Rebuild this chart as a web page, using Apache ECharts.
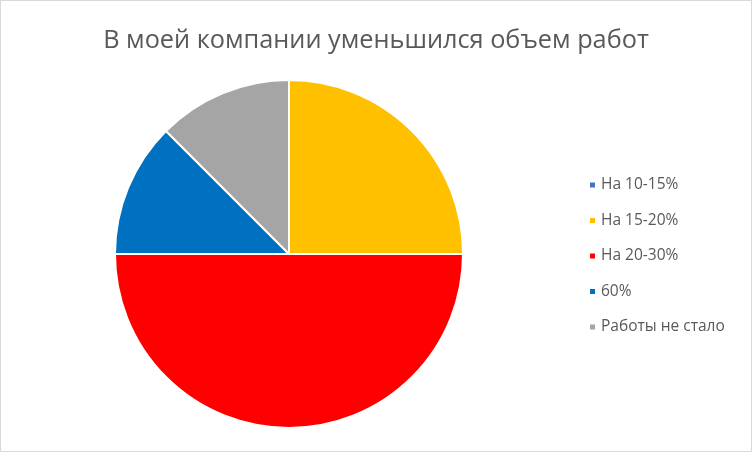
<!DOCTYPE html>
<html><head><meta charset="utf-8">
<script src="https://cdn.jsdelivr.net/npm/echarts@6/dist/echarts.min.js"></script>
<style>html,body{margin:0;padding:0;background:#fff}
#c{position:absolute;left:0;top:0;width:750px;height:450px;border:1px solid #d9d9d9}</style>
</head><body><div id="c"></div>
<script>
const categories = ['На 10-15%', 'На 15-20%', 'На 20-30%', '60%', 'Работы не стало'];
const values = [0, 2, 4, 1, 1];
const colors = ['#4472C4', '#FFC000', '#FF0000', '#0070C0', '#A5A5A5'];
const chart = echarts.init(document.getElementById('c'));
chart.setOption({
  animation: false,
  title: {text: 'В моей компании уменьшился объем работ', left: 'center', top: 22,
    textStyle: {fontFamily: 'Open Sans', fontSize: 25.3, fontWeight: 'normal', color: '#595959'}},
  legend: {orient: 'vertical', left: 582, top: 171, itemWidth: 7, itemHeight: 7, itemGap: 19.5,
    icon: 'rect', textStyle: {fontFamily: 'Open Sans', fontSize: 15.5, lineHeight: 16, color: '#595959'},
    data: categories},
  series: [{type: 'pie', center: [288, 253], radius: 174, startAngle: 90, clockwise: true,
    label: {show: false}, labelLine: {show: false}, silent: true,
    itemStyle: {borderColor: '#fff', borderWidth: 2},
    data: categories.map((n, i) => ({name: n, value: values[i], itemStyle: {color: colors[i]}}))}]
});
</script></body></html>
